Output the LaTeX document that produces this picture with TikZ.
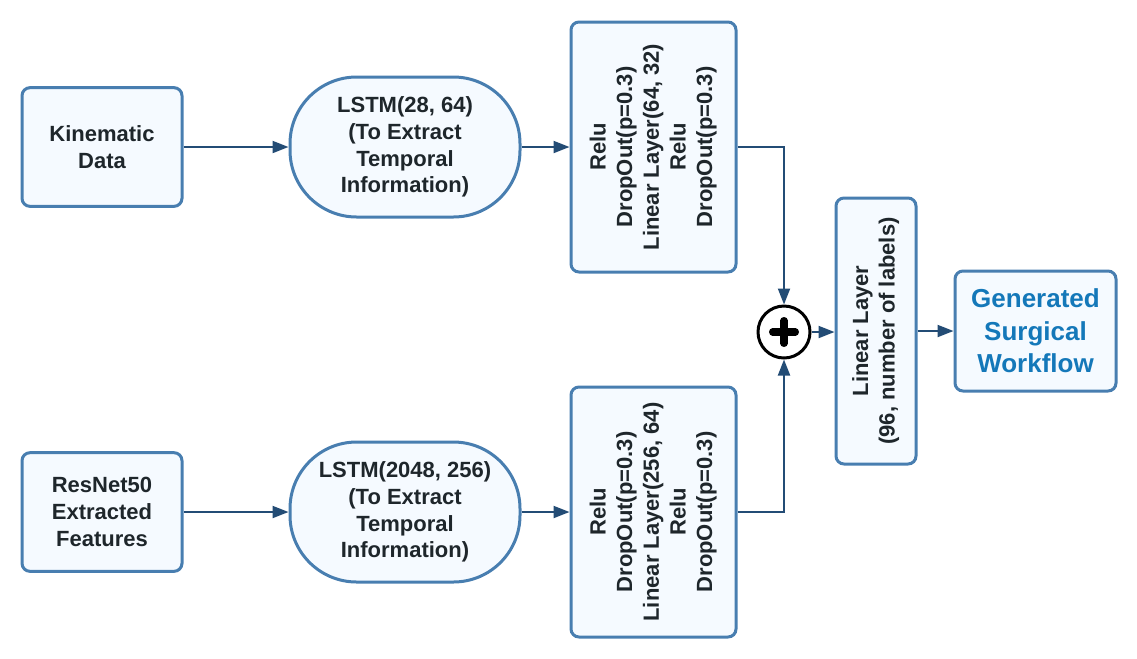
\documentclass[tikz,border=0pt]{standalone}
\usepackage{fontspec}
\setmainfont{Liberation Sans}
\usepackage{graphicx}
\usepackage{tikz}
\usetikzlibrary{arrows.meta,positioning}
\definecolor{edgeclr}{RGB}{72,126,176}
\definecolor{boxclr}{RGB}{245,250,255}
\definecolor{arrclr}{RGB}{35,76,117}
\definecolor{txtclr}{RGB}{30,38,43}
\definecolor{outclr}{RGB}{20,120,185}
\tikzset{
  blk/.style   = {draw=edgeclr, fill=boxclr, line width=2.25pt,
                  rounded corners=6pt, align=center, text=txtclr,
                  font=\fontsize{16.5}{20}\selectfont\bfseries},
  inbox/.style = {blk, minimum width=120pt, minimum height=89pt},
  lstm/.style  = {blk, rounded corners=50pt,
                  minimum width=172.5pt, minimum height=105pt},
  layer/.style = {blk, minimum width=123.75pt, minimum height=187.5pt},
  arr/.style   = {-{Triangle[length=12pt,width=9pt]}, arrclr, line width=1.5pt},
}

\begin{document}
\begin{tikzpicture}[x=0.75pt,y=-0.75pt]
        \useasboundingbox (0,0) rectangle (1137,658);
        % -- Two input branches ----------------------------------------
        \foreach \i/\yy/\src/\net/\lay in {
            1/147/{Kinematic\\Data}/{LSTM(28, 64)}/{Linear Layer(64, 32)},
            2/512/{ResNet50\\Extracted\\Features}/{LSTM(2048, 256)}/{Linear Layer(256, 64)}}{
            \node[inbox] (src\i) at (102,\yy) {\src};
            \node[lstm] (lstm\i) at (405,\yy)
                {\net\\(To Extract\\Temporal\\Information)};
            \node[layer] (fc\i) at (653.5,\yy)
                {\rotatebox{90}{\begin{tabular}{@{}c@{}}Relu\\DropOut(p=0.3)\\\lay\\Relu\\DropOut(p=0.3)\end{tabular}}};
            \draw[arr] (src\i) -- (lstm\i);
            \draw[arr] (lstm\i) -- (fc\i);
        }

        % -- Fusion ----------------------------------------------------
        \node[circle, draw=black, fill=white, line width=2.25pt,
            inner sep=0pt, minimum size=39pt] (sum) at (784,332) {};
        \draw[line width=5.5pt, line cap=round]
            ([xshift=-8.5pt]sum.center) -- ([xshift=8.5pt]sum.center);
        \draw[line width=5.5pt, line cap=round]
            ([yshift=-8.5pt]sum.center) -- ([yshift=8.5pt]sum.center);
        \draw[arr] (fc1.east) -| (sum.north);
        \draw[arr] (fc2.east) -| (sum.south);

        % -- Classifier and output -------------------------------------
        \node[blk, minimum width=60pt, minimum height=199.5pt] (lin) at (876,331)
            {\rotatebox{90}{\begin{tabular}{@{}c@{}}Linear Layer\\(96, number of labels)\end{tabular}}};
        \node[blk, minimum width=120.75pt, minimum height=90pt, text=outclr,
            font=\fontsize{19.5}{24.5}\selectfont\bfseries]
            (gen) at (1035.5,331) {Generated\\Surgical\\Workflow};
        \draw[arr] (sum.east) -- (sum.east -| lin.west);
        \draw[arr] (lin) -- (gen);
    \end{tikzpicture}
\end{document}
